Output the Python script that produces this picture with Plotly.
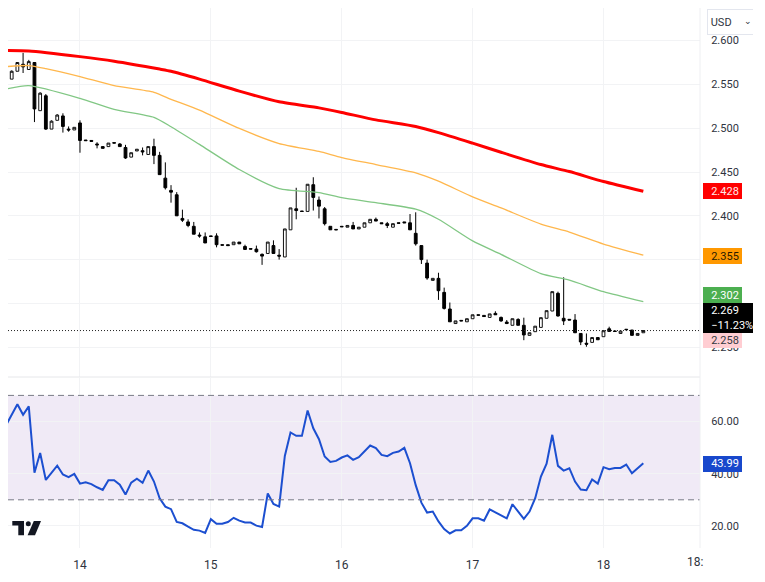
import plotly.graph_objects as go

# ---- data ----
day_ticks = [12, 35, 58, 81, 104]
day_labels = ["14", "15", "16", "17", "18"]
price_ticks = [2.60, 2.55, 2.50, 2.45, 2.40, 2.35, 2.30, 2.25]
price_labels = ["2.600", "2.550", "2.500", "2.450", "2.400", "", "", "2.250"]
rsi_ticks = [20, 40, 60]

opens = [2.556,2.565,2.573,2.567,2.575,2.520,2.537,2.499,2.509,2.514,2.499,2.498,2.506,2.4865,2.486,2.482,2.479,2.479,2.4835,2.482,
 2.478,2.467,2.474,2.4743,2.470,2.479,2.469,2.443,2.429,2.424,2.397,2.393,2.388,2.378,2.376,2.377,2.377,2.367,2.367,2.367,
 2.370,2.365,2.3625,2.362,2.356,2.357,2.366,2.355,2.353,2.384,2.408,2.4054,2.405,2.4355,2.418,2.408,2.388,2.3845,2.388,2.387,
 2.389,2.385,2.387,2.392,2.396,2.392,2.391,2.387,2.392,2.393,2.392,2.380,2.366,2.346,2.3263,2.3286,2.3126,2.2936,2.277,2.2806,
 2.279,2.2825,2.287,2.2863,2.284,2.2886,2.284,2.2787,2.275,2.2817,2.275,2.2635,2.2677,2.2726,2.283,2.2913,2.3115,2.283,2.2818,2.281,
 2.2657,2.2545,2.2555,2.261,2.262,2.271,2.2685,2.2657,2.2705,2.2696,2.2635,2.2665]
highs = [2.566,2.575,2.586,2.578,2.575,2.541,2.539,2.509,2.516,2.517,2.502,2.501,2.509,2.4865,2.486,2.484,2.479,2.483,2.4835,2.483,
 2.481,2.472,2.476,2.478,2.479,2.488,2.473,2.461,2.435,2.427,2.407,2.396,2.393,2.381,2.381,2.377,2.380,2.367,2.367,2.370,
 2.370,2.367,2.3625,2.366,2.357,2.370,2.372,2.362,2.385,2.409,2.432,2.4054,2.436,2.444,2.422,2.410,2.388,2.3845,2.388,2.389,
 2.393,2.387,2.392,2.396,2.398,2.392,2.393,2.391,2.392,2.393,2.402,2.404,2.366,2.350,2.3286,2.335,2.318,2.301,2.280,2.2806,
 2.2825,2.287,2.287,2.2863,2.288,2.291,2.285,2.281,2.2825,2.283,2.2837,2.2665,2.274,2.2837,2.2917,2.3134,2.3134,2.3298,2.2818,2.2878,
 2.2657,2.2657,2.261,2.261,2.2695,2.2734,2.2685,2.2684,2.2705,2.2696,2.2657,2.269]
lows = [2.556,2.565,2.563,2.567,2.507,2.520,2.498,2.499,2.509,2.495,2.496,2.498,2.472,2.4858,2.485,2.477,2.477,2.479,2.483,2.479,
 2.465,2.467,2.474,2.469,2.470,2.459,2.447,2.430,2.415,2.400,2.393,2.387,2.379,2.375,2.369,2.3765,2.364,2.3665,2.366,2.367,
 2.368,2.361,2.362,2.358,2.344,2.357,2.357,2.350,2.353,2.384,2.396,2.405,2.405,2.406,2.397,2.389,2.384,2.384,2.3875,2.387,
 2.385,2.385,2.387,2.392,2.394,2.391,2.386,2.387,2.3915,2.392,2.384,2.366,2.345,2.327,2.3263,2.304,2.293,2.279,2.277,2.280,
 2.279,2.2825,2.2865,2.285,2.284,2.287,2.279,2.2764,2.275,2.275,2.258,2.2635,2.2677,2.2726,2.283,2.2913,2.285,2.2753,2.281,2.2665,
 2.2524,2.2505,2.2555,2.2585,2.262,2.268,2.268,2.2657,2.270,2.2635,2.2635,2.2665]
closes = [2.565,2.575,2.570,2.576,2.522,2.540,2.499,2.508,2.515,2.502,2.498,2.501,2.486,2.4858,2.485,2.481,2.477,2.483,2.483,2.479,
 2.466,2.472,2.476,2.473,2.479,2.469,2.447,2.432,2.427,2.400,2.395,2.389,2.379,2.377,2.369,2.3765,2.367,2.3665,2.366,2.370,
 2.368,2.3616,2.362,2.359,2.354,2.370,2.357,2.354,2.385,2.409,2.406,2.405,2.436,2.421,2.411,2.391,2.384,2.384,2.3875,2.389,
 2.385,2.387,2.392,2.396,2.394,2.391,2.389,2.391,2.3915,2.392,2.384,2.368,2.350,2.329,2.3286,2.3145,2.2943,2.279,2.280,2.280,
 2.2825,2.287,2.2865,2.285,2.288,2.287,2.280,2.277,2.2825,2.275,2.264,2.2665,2.274,2.2837,2.2917,2.3134,2.2856,2.280,2.281,2.2665,
 2.256,2.2535,2.261,2.2585,2.2688,2.268,2.268,2.2684,2.270,2.2635,2.2657,2.269]

red_bars = [-1,3,12,18,26,28,33,40,47,54,58,64,71,75,81,86,93,98,104,111]
red_vals = [2.5887,2.5882,2.5817,2.5765,2.5675,2.5650,2.5560,2.5423,2.5301,2.5232,2.5180,2.5095,2.5020,2.4950,2.4829,2.4725,2.4585,2.4505,2.4391,2.428]
orange_bars = [-1,3,6,12,18,25,28,33,40,47,54,58,64,71,75,81,86,93,98,104,111]
orange_vals = [2.5703,2.5715,2.568,2.5589,2.5486,2.5410,2.5330,2.5206,2.4997,2.4825,2.4735,2.4665,2.4585,2.4490,2.4395,2.4216,2.4090,2.3905,2.3815,2.3678,2.355]
green_bars = [-1,3,12,18,25,28,33,40,47,54,58,64,71,75,81,86,93,98,104,111]
green_vals = [2.5448,2.5486,2.5341,2.5215,2.5124,2.5017,2.4815,2.4528,2.4311,2.4265,2.4207,2.4150,2.4075,2.396,2.3713,2.3560,2.3340,2.3265,2.3134,2.302]

rsi_vals = [58.5,62.7,66.6,62.6,65.8,40.4,47.9,37.6,40.2,43.1,39.7,38.7,39.9,36.2,36.7,36.0,34.8,33.8,37.5,37.5,35.8,
 32.0,36.6,38.1,36.5,41.2,37.0,30.6,27.4,26.4,21.5,21.0,19.7,18.5,18.2,17.3,22.6,20.8,20.8,21.5,23.1,
 22.0,21.3,21.3,20.1,19.6,32.4,28.4,27.4,46.8,55.8,54.5,54.5,64.2,57.4,53.2,46.6,44.5,44.9,46.2,47.0,
 45.3,46.3,48.4,50.8,49.8,47.2,46.7,48.0,48.5,49.9,44.0,35.6,28.9,25.1,25.5,21.7,18.8,17.1,18.3,18.3,
 20.0,22.9,22.9,22.0,26.3,25.1,23.8,22.9,28.3,25.5,22.7,25.5,30.6,38.9,43.8,54.9,43.0,41.2,42.1,37.0,
 33.9,33.7,37.8,36.2,42.5,41.7,42.2,42.2,43.5,40.2,42.2,43.99]

last_price = 2.269
rsi_low, rsi_high = 30, 70

bars = list(range(len(opens)))
rsi_bars = list(range(-1, len(rsi_vals) - 1))

# ---- page geometry (reference pixels) ----
FIG_W, FIG_H = 745, 567
LEFT, RIGHT, TOP, BOTTOM, SPLIT = 8, 700, 8, 548, 377
PW, PH = RIGHT - LEFT, BOTTOM - TOP
def px(x): return (x - LEFT) / PW
def py(y): return (BOTTOM - y) / PH

fig = go.Figure()
fig.add_trace(go.Candlestick(x=bars, open=opens, high=highs, low=lows, close=closes,
    increasing=dict(line=dict(color="#111111", width=1), fillcolor="#ffffff"),
    decreasing=dict(line=dict(color="#000000", width=1), fillcolor="#000000"),
    whiskerwidth=0, showlegend=False, hoverinfo="skip"))
for xs, ys, c, w in [(green_bars, green_vals, "#81C784", 1.3), (orange_bars, orange_vals, "#FFB74D", 1.3), (red_bars, red_vals, "#FF0000", 3)]:
    fig.add_trace(go.Scatter(x=xs, y=ys, mode="lines", line=dict(color=c, width=w, shape="spline", smoothing=0.6), showlegend=False, hoverinfo="skip"))
fig.add_trace(go.Scatter(x=rsi_bars, y=rsi_vals, mode="lines", xaxis="x2", yaxis="y2",
    line=dict(color="#1C4FD0", width=2), showlegend=False, hoverinfo="skip"))

GRID = "#f2f3f5"
xr = [-0.65, 120.96]
TXT = "#2f3440"
fig.update_layout(
    width=FIG_W, height=FIG_H, margin=dict(l=0, r=FIG_W - PW, t=0, b=FIG_H - PH),
    paper_bgcolor="white", plot_bgcolor="white",
    font=dict(family="Roboto", size=11, color=TXT),
    boxgap=0.3,
    xaxis=dict(domain=[0, 1], range=xr, anchor="y", tickvals=day_ticks, ticktext=["" for _ in day_ticks],
               showgrid=True, gridcolor=GRID, gridwidth=1, zeroline=False, showline=False, rangeslider=dict(visible=False), ticks=""),
    yaxis=dict(domain=[py(SPLIT), 1], range=[2.6 - (SPLIT - 40.6) / 876, 2.6 + (40.6 - TOP) / 876], side="right", anchor="x",
               tickvals=price_ticks, ticktext=price_labels, showgrid=True, gridcolor=GRID, zeroline=False,
               ticks="outside", ticklen=8, tickcolor="rgba(0,0,0,0)", showline=False),
    xaxis2=dict(domain=[0, 1], range=xr, anchor="y2", tickvals=day_ticks, ticktext=day_labels,
                showgrid=True, gridcolor=GRID, zeroline=False, showline=False,
                ticks="outside", ticklen=6, tickcolor="rgba(0,0,0,0)", tickfont=dict(size=12, family="Roboto", color=TXT)),
    yaxis2=dict(domain=[0, py(SPLIT + 1)], range=[60 - (BOTTOM - 421.5) / 2.61, 60 + (421.5 - (SPLIT + 1)) / 2.61], side="right", anchor="x2",
                tickvals=rsi_ticks, ticktext=[f"{v:.2f}" for v in rsi_ticks], showgrid=True, gridcolor=GRID, zeroline=False,
                ticks="outside", ticklen=8, tickcolor="rgba(0,0,0,0)", showline=False),
)

shapes = [
    dict(type="rect", xref="paper", yref="y2", x0=0, x1=1, y0=rsi_low, y1=rsi_high, fillcolor="rgba(110,60,170,0.105)", line_width=0, layer="below"),
    dict(type="line", xref="paper", yref="y2", x0=0, x1=1, y0=rsi_low, y1=rsi_low, line=dict(color="#787b86", width=1, dash="6px,4px")),
    dict(type="line", xref="paper", yref="y2", x0=0, x1=1, y0=rsi_high, y1=rsi_high, line=dict(color="#787b86", width=1, dash="6px,4px")),
    dict(type="line", xref="paper", yref="y", x0=0, x1=1, y0=last_price, y1=last_price, line=dict(color="#222222", width=1, dash="1px,2px")),
    dict(type="line", xref="paper", yref="paper", x0=0, x1=1, y0=py(377), y1=py(377), line=dict(color="#e6e7ea", width=1)),
    dict(type="line", xref="paper", yref="paper", x0=1, x1=1, y0=0, y1=py(6), line=dict(color="#eeeff2", width=1)),
]
# TradingView mark
def poly(points):
    return "M " + " L ".join(f"{px(a):.5f},{py(b):.5f}" for a, b in points) + " Z"
LOGO = "#131722"
shapes.append(dict(type="path", xref="paper", yref="paper", fillcolor=LOGO, line_width=0,
    path=poly([(12.3, 521), (24, 521), (24, 535.3), (18.3, 535.3), (18.3, 525.5), (12.3, 525.5)])))
shapes.append(dict(type="circle", xref="paper", yref="paper", fillcolor=LOGO, line_width=0,
    x0=px(25.8), x1=px(30.8), y0=py(526.2), y1=py(521.2)))
shapes.append(dict(type="path", xref="paper", yref="paper", fillcolor=LOGO, line_width=0,
    path=poly([(33.8, 521), (41, 521), (35, 535.3), (27.6, 535.3)])))
fig.update_layout(shapes=shapes)

PAD = "&nbsp;&nbsp;&nbsp;"
def badge(text, x0, x1, y0, y1, bg, fg, size=11, border=None):
    return dict(xref="paper", yref="paper", x=px(x0), y=py((y0 + y1) / 2), xanchor="left", yanchor="middle",
                text=text, showarrow=False, width=x1 - x0, height=y1 - y0, bgcolor=bg, borderpad=0,
                borderwidth=1 if border else 0, bordercolor=border or "rgba(0,0,0,0)", align="left",
                font=dict(family="Roboto", size=size, color=fg))
annotations = [
    badge(PAD + "2.428", 703, 741.5, 183.3, 199.3, "#FF0000", "#ffe9e9"),
    badge(PAD + "2.355", 703, 741.5, 248, 264, "#FF9800", "#2a1c00"),
    badge(PAD + "2.302", 703, 741.5, 286.7, 303, "#4CAF50", "#ffffff"),
    badge(PAD + "2.258", 703, 741.5, 333.3, 348.5, "#FFCDD2", "#33383f"),
    badge(PAD + "2.269<br>" + PAD + "−11.23%", 703, 753, 302.7, 332.5, "#000000", "#ffffff"),
    badge(PAD + "43.99", 703, 741.5, 456, 471.7, "#1848CC", "#ffffff"),
    badge("&nbsp;USD", 707, 753, 10, 34, "#ffffff", "#2f3440", border="#e3e6ee"),
    dict(xref="paper", yref="paper", x=px(748), y=py(21), xanchor="center", yanchor="middle", text="⌄", showarrow=False,
         font=dict(family="DejaVu Sans", size=9, color="#2f3440")),
    dict(xref="paper", yref="paper", x=px(695), y=py(562), xanchor="center", yanchor="middle", text="18:", showarrow=False,
         font=dict(family="Roboto", size=12, color=TXT)),
]
fig.update_layout(annotations=annotations)

fig.write_html("out.html", config=dict(displayModeBar=False))
